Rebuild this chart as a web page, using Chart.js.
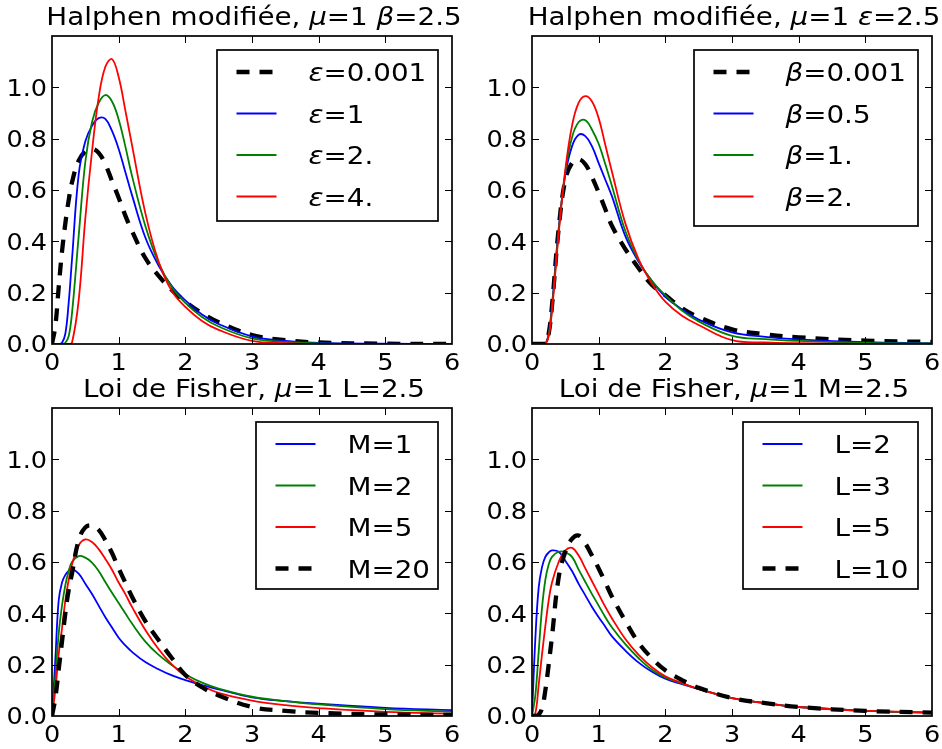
<!DOCTYPE html>
<html>
<head>
<meta charset="utf-8">
<script src="https://cdn.jsdelivr.net/npm/chart.js@4.4.1/dist/chart.umd.min.js"></script>
<style>
  body { margin: 0; background: #fff; }
  #cadre { position: relative; width: 942px; height: 749px; }
  #cadre canvas { position: absolute; left: 0; top: 0; }
</style>
</head>
<body>
<div id="cadre">
  <canvas id="g1" width="942" height="749"></canvas>
  <canvas id="g2" width="942" height="749"></canvas>
  <canvas id="g3" width="942" height="749"></canvas>
  <canvas id="g4" width="942" height="749"></canvas>
</div>
<script>
// abscisses communes
const xs = [0, 0.05, 0.1, 0.15, 0.2, 0.25, 0.3, 0.4, 0.5, 0.6, 0.7, 0.8, 0.9, 1.0, 1.1, 1.2, 1.4, 1.6, 1.8, 2.0, 2.25, 2.5, 3.0, 3.5, 4.0, 5.0, 6.0];
const xTicks = [0, 1, 2, 3, 4, 5, 6];
const yTicks = [0.0, 0.2, 0.4, 0.6, 0.8, 1.0];

// Halphen modifiée, mu=1 beta=2.5
const hb_eps0001 = [0, 0.07, 0.22, 0.36, 0.47, 0.56, 0.63, 0.715, 0.75, 0.76, 0.745, 0.70, 0.635, 0.57, 0.50, 0.44, 0.335, 0.265, 0.21, 0.165, 0.12, 0.085, 0.035, 0.015, 0.006, 0.001, 0];
const hb_eps1 = [0, 0, 0, 0.005, 0.04, 0.16, 0.33, 0.66, 0.79, 0.85, 0.88, 0.877, 0.83, 0.76, 0.67, 0.58, 0.415, 0.305, 0.225, 0.17, 0.115, 0.078, 0.03, 0.012, 0.004, 0.001, 0];
const hb_eps2 = [0, 0, 0, 0, 0.005, 0.03, 0.12, 0.42, 0.71, 0.865, 0.94, 0.97, 0.945, 0.875, 0.77, 0.655, 0.46, 0.315, 0.22, 0.16, 0.105, 0.068, 0.022, 0.008, 0.002, 0, 0];
const hb_eps4 = [0, 0, 0, 0, 0, 0, 0.005, 0.17, 0.49, 0.75, 0.96, 1.08, 1.11, 1.04, 0.91, 0.775, 0.51, 0.32, 0.205, 0.145, 0.09, 0.055, 0.012, 0.003, 0, 0, 0];

// Halphen modifiée, mu=1 eps=2.5
const he_b0001 = [0, 0, 0, 0, 0, 0.04, 0.15, 0.45, 0.64, 0.705, 0.72, 0.70, 0.65, 0.59, 0.525, 0.46, 0.37, 0.295, 0.23, 0.19, 0.14, 0.105, 0.057, 0.038, 0.026, 0.013, 0.008];
const he_b05 = [0, 0, 0, 0, 0, 0.04, 0.15, 0.45, 0.66, 0.77, 0.815, 0.81, 0.77, 0.705, 0.64, 0.575, 0.42, 0.32, 0.245, 0.185, 0.135, 0.095, 0.045, 0.028, 0.018, 0.007, 0.003];
const he_b1 = [0, 0, 0, 0, 0, 0.035, 0.14, 0.44, 0.67, 0.805, 0.865, 0.872, 0.835, 0.78, 0.70, 0.615, 0.44, 0.325, 0.245, 0.19, 0.13, 0.088, 0.032, 0.019, 0.012, 0.004, 0.002];
const he_b2 = [0, 0, 0, 0, 0, 0.03, 0.13, 0.43, 0.68, 0.85, 0.94, 0.966, 0.945, 0.88, 0.775, 0.67, 0.47, 0.33, 0.235, 0.165, 0.11, 0.074, 0.015, 0.006, 0.003, 0, 0];

// Loi de Fisher, mu=1 L=2.5
const fl_m1 = [0, 0.22, 0.45, 0.52, 0.55, 0.565, 0.572, 0.555, 0.515, 0.475, 0.43, 0.385, 0.345, 0.305, 0.275, 0.25, 0.21, 0.182, 0.158, 0.14, 0.12, 0.104, 0.073, 0.058, 0.048, 0.032, 0.023];
const fl_m2 = [0, 0.15, 0.32, 0.43, 0.51, 0.565, 0.60, 0.623, 0.617, 0.598, 0.565, 0.522, 0.48, 0.44, 0.40, 0.36, 0.29, 0.238, 0.198, 0.163, 0.13, 0.107, 0.075, 0.058, 0.045, 0.027, 0.017];
const fl_m5 = [0, 0.1, 0.24, 0.34, 0.45, 0.53, 0.59, 0.665, 0.688, 0.678, 0.65, 0.612, 0.57, 0.52, 0.475, 0.425, 0.335, 0.26, 0.2, 0.155, 0.118, 0.09, 0.06, 0.042, 0.031, 0.016, 0.009];
const fl_m20 = [0, 0.07, 0.18, 0.29, 0.40, 0.49, 0.555, 0.685, 0.735, 0.742, 0.725, 0.685, 0.635, 0.575, 0.52, 0.465, 0.37, 0.295, 0.225, 0.16, 0.112, 0.08, 0.035, 0.02, 0.012, 0.006, 0.004];

// Loi de Fisher, mu=1 M=2.5
const fm_l2 = [0, 0.3, 0.5, 0.58, 0.62, 0.637, 0.645, 0.64, 0.605, 0.565, 0.515, 0.47, 0.425, 0.385, 0.348, 0.31, 0.255, 0.208, 0.172, 0.145, 0.124, 0.105, 0.07, 0.05, 0.035, 0.02, 0.013];
const fm_l3 = [0, 0.08, 0.25, 0.42, 0.53, 0.59, 0.62, 0.64, 0.638, 0.62, 0.57, 0.522, 0.475, 0.43, 0.385, 0.345, 0.28, 0.225, 0.18, 0.15, 0.127, 0.105, 0.07, 0.05, 0.035, 0.02, 0.013];
const fm_l5 = [0, 0.01, 0.12, 0.24, 0.35, 0.45, 0.52, 0.6, 0.645, 0.655, 0.625, 0.575, 0.525, 0.475, 0.425, 0.38, 0.30, 0.238, 0.19, 0.155, 0.128, 0.105, 0.07, 0.05, 0.035, 0.02, 0.014];
const fm_l10 = [0, 0, 0.005, 0.03, 0.1, 0.2, 0.31, 0.54, 0.64, 0.69, 0.703, 0.672, 0.625, 0.575, 0.52, 0.465, 0.37, 0.285, 0.225, 0.178, 0.14, 0.11, 0.07, 0.05, 0.035, 0.02, 0.013];

const POLICE = '"DejaVu Sans", sans-serif';
const ETIRE = 1.11; // le texte de la figure est un peu élargi

// texte avec lettres grecques en italique (comme mathtext)
function morceaux(s) {
  const res = [];
  for (const c of s) {
    const it = /[\u0370-\u03ff]/.test(c);
    if (res.length && res[res.length - 1].it === it) res[res.length - 1].t += c;
    else res.push({ t: c, it: it });
  }
  return res;
}
function ecrire(ctx, s, x, y, taille, align) {
  const parts = morceaux(s);
  let larg = 0;
  parts.forEach(p => {
    ctx.font = (p.it ? 'italic ' : '') + taille + 'px ' + POLICE;
    p.w = ctx.measureText(p.t).width;
    larg += p.w;
  });
  larg *= ETIRE;
  let x0 = x;
  if (align === 'center') x0 = x - larg / 2;
  if (align === 'right') x0 = x - larg;
  ctx.save();
  ctx.translate(x0, y);
  ctx.scale(ETIRE, 1);
  ctx.fillStyle = '#000';
  ctx.textBaseline = 'alphabetic';
  ctx.textAlign = 'left';
  let cx = 0;
  parts.forEach(p => {
    ctx.font = (p.it ? 'italic ' : '') + taille + 'px ' + POLICE;
    ctx.fillText(p.t, cx, 0);
    cx += p.w;
  });
  ctx.restore();
}

const decor = {
  id: 'decor',
  afterDraw(chart) {
    const ctx = chart.ctx;
    const a = chart.chartArea;
    const sx = chart.scales.x, sy = chart.scales.y;
    const o = chart.options.plugins.decor;
    ctx.save();
    // graduations vers l'intérieur
    ctx.strokeStyle = '#000';
    ctx.lineWidth = 1;
    ctx.beginPath();
    xTicks.forEach(v => {
      const px = Math.round(sx.getPixelForValue(v)) + 0.5;
      if (v > sx.min && v < sx.max) {
        ctx.moveTo(px, a.bottom); ctx.lineTo(px, a.bottom - 7);
        ctx.moveTo(px, a.top); ctx.lineTo(px, a.top + 7);
      }
    });
    yTicks.forEach(v => {
      const py = Math.round(sy.getPixelForValue(v)) + 0.5;
      if (v > sy.min && v < sy.max) {
        ctx.moveTo(a.left, py); ctx.lineTo(a.left + 7, py);
        ctx.moveTo(a.right, py); ctx.lineTo(a.right - 7, py);
      }
    });
    ctx.stroke();
    // cadre
    ctx.lineWidth = 1.7;
    ctx.strokeRect(a.left, a.top, a.right - a.left, a.bottom - a.top);
    // étiquettes
    xTicks.forEach(v => ecrire(ctx, String(v), sx.getPixelForValue(v), a.bottom + 25.5, 23, 'center'));
    yTicks.forEach(v => ecrire(ctx, v.toFixed(1), a.left - 5, sy.getPixelForValue(v) + 8.4, 23, 'right'));
    // titre
    ecrire(ctx, o.titre, (a.left + a.right) / 2 + 2, a.top - 11, 25, 'center');
    // légende
    const lg = o.legende;
    const bx = a.right - 14 - lg.largeur, by = a.top + 14;
    ctx.fillStyle = '#fff';
    ctx.fillRect(bx, by, lg.largeur, lg.hauteur);
    ctx.lineWidth = 1.7;
    ctx.strokeStyle = '#000';
    ctx.strokeRect(bx, by, lg.largeur, lg.hauteur);
    chart.data.datasets.forEach((ds, i) => {
      const ly = by + 22 + i * 41.5;
      const lx = bx + 19.5;
      ctx.save();
      ctx.strokeStyle = ds.borderColor;
      ctx.lineWidth = ds.borderWidth;
      ctx.setLineDash(ds.borderDash || []);
      ctx.lineCap = 'butt';
      ctx.beginPath();
      ctx.moveTo(lx, ly); ctx.lineTo(lx + 40, ly);
      ctx.stroke();
      ctx.restore();
      ecrire(ctx, ds.label, lx + 72, ly + 9, 25, 'left');
    });
    ctx.restore();
  }
};

function serie(label, vals, couleur, tirets, rang) {
  return {
    label: label,
    data: xs.map((x, i) => ({ x: x, y: vals[i] })),
    borderColor: couleur,
    borderWidth: tirets ? 4.3 : 1.8,
    borderDash: tirets ? [13, 10] : [],
    borderCapStyle: 'butt',
    pointRadius: 0,
    tension: 0.4,
    clip: 0,
    order: rang
  };
}

function graphique(id, zone, titre, legende, datasets) {
  new Chart(document.getElementById(id), {
    type: 'line',
    data: { datasets: datasets },
    options: {
      responsive: false,
      animation: false,
      events: [],
      devicePixelRatio: 1,
      layout: { padding: { left: zone[0], top: zone[1], right: 942 - zone[2], bottom: 749 - zone[3] } },
      scales: {
        x: {
          type: 'linear', min: 0, max: 6,
          ticks: { display: false, stepSize: 1 },
          grid: { display: false }, border: { display: false },
          afterFit: s => { s.height = 0; }
        },
        y: {
          type: 'linear', min: 0, max: 1.2,
          ticks: { display: false, stepSize: 0.2 },
          grid: { display: false }, border: { display: false },
          afterFit: s => { s.width = 0; }
        }
      },
      plugins: {
        legend: { display: false },
        tooltip: { enabled: false },
        decor: { titre: titre, legende: legende }
      }
    },
    plugins: [decor]
  });
}

graphique('g1', [52, 36, 452, 344], 'Halphen modifiée, μ=1 β=2.5', { largeur: 221, hauteur: 171 }, [
  serie('ε=0.001', hb_eps0001, '#000000', true, 4),
  serie('ε=1', hb_eps1, '#0000ff', false, 3),
  serie('ε=2.', hb_eps2, '#008000', false, 2),
  serie('ε=4.', hb_eps4, '#ff0000', false, 1)
]);
graphique('g2', [532, 36, 932, 344], 'Halphen modifiée, μ=1 ε=2.5', { largeur: 224, hauteur: 176 }, [
  serie('β=0.001', he_b0001, '#000000', true, 4),
  serie('β=0.5', he_b05, '#0000ff', false, 3),
  serie('β=1.', he_b1, '#008000', false, 2),
  serie('β=2.', he_b2, '#ff0000', false, 1)
]);
graphique('g3', [52, 408, 452, 716], 'Loi de Fisher, μ=1 L=2.5', { largeur: 182, hauteur: 167 }, [
  serie('M=1', fl_m1, '#0000ff', false, 4),
  serie('M=2', fl_m2, '#008000', false, 3),
  serie('M=5', fl_m5, '#ff0000', false, 2),
  serie('M=20', fl_m20, '#000000', true, 1)
]);
graphique('g4', [532, 408, 932, 716], 'Loi de Fisher, μ=1 M=2.5', { largeur: 175, hauteur: 167 }, [
  serie('L=2', fm_l2, '#0000ff', false, 4),
  serie('L=3', fm_l3, '#008000', false, 3),
  serie('L=5', fm_l5, '#ff0000', false, 2),
  serie('L=10', fm_l10, '#000000', true, 1)
]);
</script>
</body>
</html>
